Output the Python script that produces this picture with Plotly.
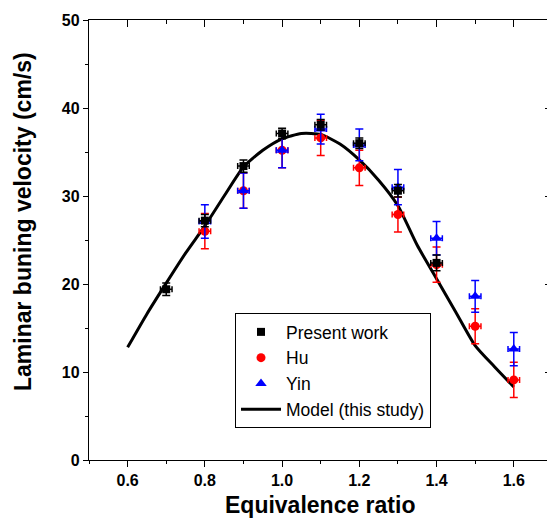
"""Laminar burning velocity vs equivalence ratio: experiments and model."""

import plotly.graph_objects as go

# ---------------------------------------------------------------------------
# Data
# ---------------------------------------------------------------------------

phi_present = [0.7, 0.8, 0.9, 1.0, 1.1, 1.2, 1.3, 1.4]
su_present = [19.4, 27.2, 33.4, 37.1, 38.1, 36.0, 30.6, 22.4]
err_present = [0.7, 0.7, 0.7, 0.6, 0.6, 0.6, 0.7, 0.9]

phi_hu = [0.8, 0.9, 1.0, 1.1, 1.2, 1.3, 1.4, 1.5, 1.6]
su_hu = [26.0, 30.6, 35.2, 36.6, 33.2, 27.9, 22.2, 15.2, 9.1]
err_hu = [2.0, 2.0, 2.0, 2.0, 2.0, 2.0, 2.0, 2.0, 2.0]

phi_yin = [0.8, 0.9, 1.0, 1.1, 1.2, 1.3, 1.4, 1.5, 1.6]
su_yin = [27.1, 30.6, 35.2, 37.6, 35.8, 31.0, 25.2, 18.6, 12.6]
err_yin = [1.9, 2.0, 2.0, 1.7, 1.8, 2.0, 1.9, 1.8, 1.9]

phi_err = 0.015  # horizontal error on equivalence ratio

phi_model = [0.60, 0.65, 0.70, 0.75, 0.80, 0.85, 0.90, 0.95, 1.00, 1.05, 1.10,
             1.15, 1.20, 1.25, 1.30, 1.35, 1.40, 1.45, 1.50, 1.55, 1.60]
su_model = [12.8, 16.6, 20.1, 23.5, 26.6, 30.0, 33.3, 35.2, 36.5, 37.1, 37.0,
            35.9, 34.1, 31.8, 28.9, 24.4, 20.6, 16.8, 13.0, 10.6, 8.3]

x_ticks = [0.6, 0.8, 1.0, 1.2, 1.4, 1.6]
x_ticktext = ["0.6", "0.8", "1.0", "1.2", "1.4", "1.6"]
y_ticks = [0, 10, 20, 30, 40, 50]

X_RANGE = [0.5, 1.686]
Y_RANGE = [0, 50]

FONT = "Arial, Liberation Sans, sans-serif"


def _points(x, y, err, name, color, symbol, size):
    return go.Scatter(
        x=x, y=y,
        mode="markers",
        name=name,
        marker=dict(color=color, symbol=symbol, size=size, line=dict(width=0)),
        error_y=dict(type="data", array=err, color=color, thickness=1.5, width=4),
        error_x=dict(type="constant", value=phi_err, color=color, thickness=1.5, width=3),
    )


fig = go.Figure()

# draw order: model line under the symbols, Yin on top of Hu, present work on top
fig.add_trace(go.Scatter(
    x=phi_model, y=su_model,
    mode="lines",
    line=dict(color="black", width=3, shape="spline", smoothing=0.6),
    name="Model (this study)",
    legendrank=4,
))
fig.add_trace(_points(phi_hu, su_hu, err_hu, "Hu", "#ff0000", "circle", 9))
fig.add_trace(_points(phi_yin, su_yin, err_yin, "Yin", "#0000ff", "triangle-up", 10))
fig.add_trace(_points(phi_present, su_present, err_present,
                      "Present work", "black", "square", 8))
fig.data[1].legendrank = 2
fig.data[2].legendrank = 3
fig.data[3].legendrank = 1

# invisible trace so the mirrored top/right axes get drawn
fig.add_trace(go.Scatter(
    x=phi_model, y=su_model, xaxis="x2", yaxis="y2",
    mode="lines", line=dict(color="rgba(0,0,0,0)"),
    showlegend=False, hoverinfo="skip",
))

axis_common = dict(
    showgrid=False, zeroline=False,
    linecolor="black", linewidth=1.3,
    tickcolor="black", tickwidth=1.3,
)

fig.update_layout(
    width=547, height=521,
    margin=dict(l=89, r=0, t=20, b=61),
    paper_bgcolor="white", plot_bgcolor="white",
    font=dict(family=FONT, color="black"),
    xaxis=dict(
        **axis_common,
        range=X_RANGE, showline=True,
        tickvals=x_ticks, ticktext=x_ticktext,
        ticks="outside", ticklen=6,
        tickfont=dict(size=16, family=FONT, weight="bold"),
        minor=dict(dtick=0.1, tick0=0.5, ticks="outside", ticklen=3,
                   tickcolor="black", tickwidth=1.3),
    ),
    yaxis=dict(
        **axis_common,
        range=Y_RANGE, showline=True,
        tickvals=y_ticks,
        ticks="outside", ticklen=5,
        tickfont=dict(size=16, family=FONT, weight="bold"),
        minor=dict(dtick=5, ticks="outside", ticklen=3,
                   tickcolor="black", tickwidth=1.3),
    ),
    xaxis2=dict(
        **axis_common,
        overlaying="x", side="top", anchor="y2",
        range=X_RANGE, showline=True, showticklabels=False,
        tickvals=x_ticks, ticks="inside", ticklen=7,
        minor=dict(dtick=0.1, tick0=0.5, ticks="inside", ticklen=4,
                   tickcolor="black", tickwidth=1.3),
    ),
    yaxis2=dict(
        **axis_common,
        overlaying="y", side="right", anchor="x2",
        range=Y_RANGE, showline=False, showticklabels=False,
        tickvals=y_ticks, ticks="inside", ticklen=2,
    ),
    legend=dict(
        x=(235 - 89) / 458, y=(460 - 313) / 440,
        xanchor="left", yanchor="top",
        bgcolor="white", bordercolor="black", borderwidth=1,
        font=dict(size=17.5, family=FONT),
        itemwidth=40,
        tracegroupgap=0,
    ),
    annotations=[
        dict(text="<b>Equivalence ratio</b>", xref="paper", yref="paper",
             x=0.504, y=-0.102, xanchor="center", yanchor="middle",
             showarrow=False, font=dict(size=23, family=FONT)),
        dict(text="<b>Laminar buning velocity (cm/s)</b>", xref="paper", yref="paper",
             x=-0.144, y=0.541, xanchor="center", yanchor="middle", textangle=-90,
             showarrow=False, font=dict(size=23, family=FONT)),
    ],
)

# page body has a default 8px margin; drop it so the figure fills the window
fig.write_html("out.html", config={"displayModeBar": False},
               post_script="document.body.style.margin = '0';")
